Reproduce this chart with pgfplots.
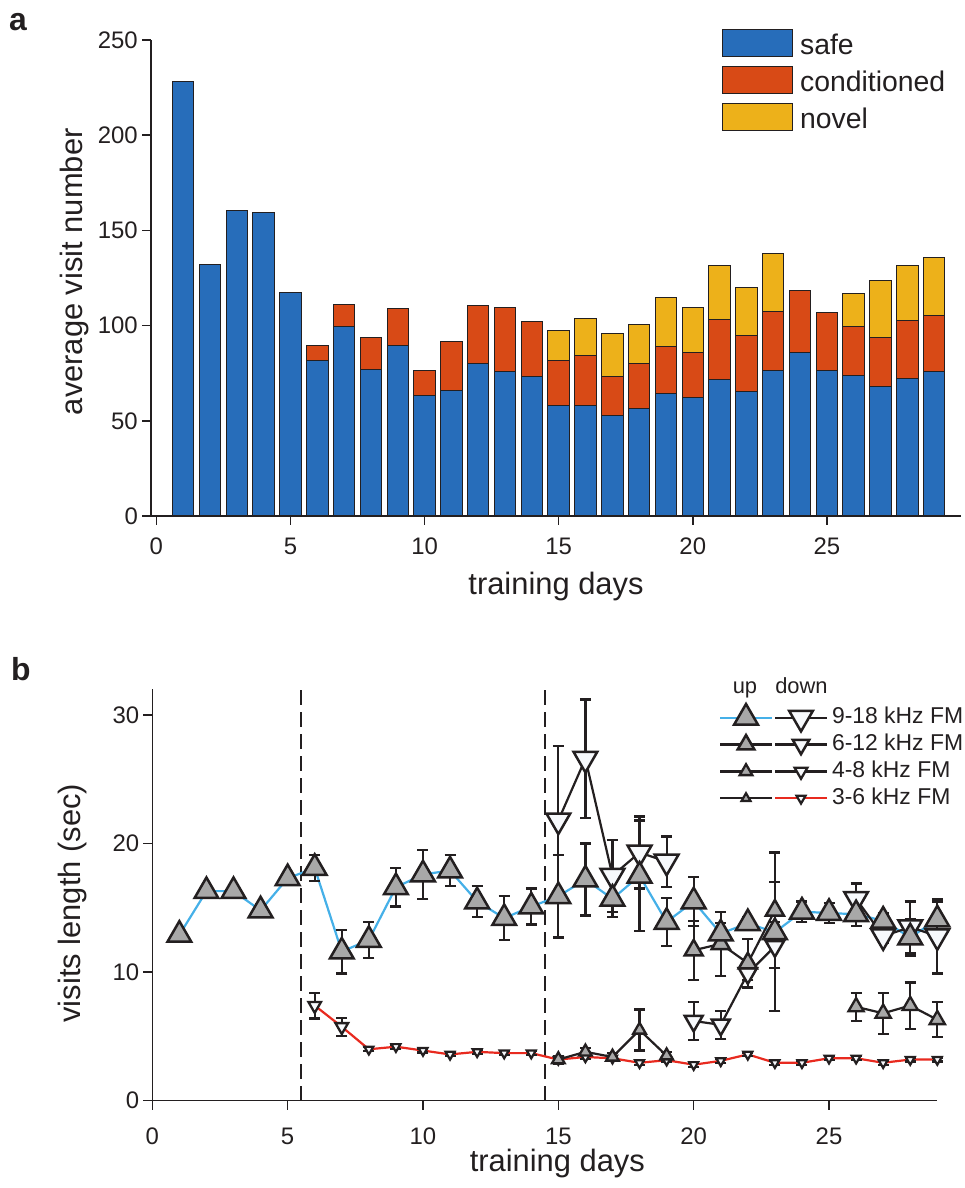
\documentclass[border=0pt]{standalone}
\usepackage{fontspec}
\setmainfont{Liberation Sans}
\usepackage{pgfplots}
\pgfplotsset{compat=1.18}
\definecolor{edgecol}{HTML}{231F20}
\definecolor{cblue}{HTML}{276DBA}
\definecolor{corange}{HTML}{D84A16}
\definecolor{cyellow}{HTML}{EDB11A}
\definecolor{mgray}{HTML}{A8A8A8}
\definecolor{mwhite}{HTML}{F7F9FC}
\definecolor{lblue}{HTML}{45B0E8}
\definecolor{lred}{HTML}{E82A1F}
\pgfplotsset{
  myaxis/.style={
    scale only axis, anchor=south west,
    axis x line*=bottom, axis y line*=left,
    axis line style={line width=1.5bp, draw=edgecol},
    tick align=outside, major tick length=9bp,
    every tick/.style={line width=1.5bp, draw=edgecol},
    tick label style={font=\fontsize{24}{28}\selectfont, text=edgecol},
    /pgf/number format/assume math mode=true,
    label style={font=\fontsize{31}{36}\selectfont, text=edgecol},
    xticklabel style={anchor=north, inner sep=0pt, yshift=-13bp},
    yticklabel style={anchor=east, inner sep=0pt, xshift=-4bp},
  },
  boxleg/.style={legend image code/.code={\draw[##1] (0bp,-13.5bp) rectangle (70bp,13.5bp);}},
  upA/.style={only marks, mark=triangle*, mark size=13.7bp, mark options={fill=mgray, draw=edgecol, line width=2.5bp, solid}},
  dnA/.style={only marks, mark=triangle*, mark size=13.7bp, mark options={rotate=180, fill=mwhite, draw=edgecol, line width=2.5bp, solid}},
  upB/.style={only marks, mark=triangle*, mark size=10.4bp, mark options={fill=mgray, draw=edgecol, line width=2.5bp, solid}},
  dnB/.style={only marks, mark=triangle*, mark size=10.4bp, mark options={rotate=180, fill=mwhite, draw=edgecol, line width=2.5bp, solid}},
  upC/.style={only marks, mark=triangle*, mark size=7.3bp, mark options={fill=mgray, draw=edgecol, line width=2.3bp, solid}},
  dnC/.style={only marks, mark=triangle*, mark size=7.3bp, mark options={rotate=180, fill=mwhite, draw=edgecol, line width=2.3bp, solid}},
  upD/.style={only marks, mark=triangle*, mark size=5.2bp, mark options={fill=mgray, draw=edgecol, line width=2.2bp, solid}},
  dnD/.style={only marks, mark=triangle*, mark size=5.2bp, mark options={rotate=180, fill=mwhite, draw=edgecol, line width=2.2bp, solid}},
  eb/.style={error bars/.cd, y dir=both, y explicit,
    error bar style={line width=2.2bp, draw=edgecol},
    error mark options={rotate=90, line width=2.2bp, mark size=5.5bp, draw=edgecol}},
  blk/.style={no markers, draw=edgecol, line width=2.2bp},
}
\begin{document}
\begin{tikzpicture}
\path[use as bounding box] (0bp,0bp) rectangle (965bp,1188bp);
\node[anchor=base west, font=\bfseries\fontsize{32}{36}\selectfont, text=edgecol, inner sep=0pt] at (9bp,1157bp) {a};
\node[anchor=base west, font=\bfseries\fontsize{32}{36}\selectfont, text=edgecol, inner sep=0pt] at (11bp,507bp) {b};
% ---------------- panel a
\begin{axis}[myaxis, at={(151bp,672bp)}, width=810bp, height=476bp,
  xmin=-0.2, xmax=30, ymin=0, ymax=250,
  xtick={0,5,...,25}, ytick={0,50,...,250},
  ybar stacked, bar width=0.8,
  xlabel={training days}, ylabel={average visit number},
  xlabel style={at={(axis description cs:0.5,0)}, anchor=base, yshift=-79bp},
  ylabel style={at={(axis description cs:-0.085,0.513)}, anchor=base},
  legend cell align=left,
  legend style={at={(axis description cs:0.705,1.0225)}, anchor=north west, draw=none, fill=none,
    inner sep=0pt, outer sep=0pt, row sep=9bp, column sep=7bp,
    font=\fontsize{28.5}{34}\selectfont, text=edgecol,
    nodes={inner sep=0pt, text height=25bp, text depth=2bp}},
]
\addplot[fill=cblue, draw=edgecol, line width=1bp, boxleg] coordinates {
(1,228.4) (2,132) (3,160.5) (4,159.5) (5,117.2) (6,81.5) (7,99.5) (8,76.8) (9,89.7) (10,63.1)
(11,66.1) (12,80.1) (13,75.9) (14,73.1) (15,58.1) (16,58.1) (17,52.8) (18,56.5) (19,64.2) (20,62.3)
(21,71.9) (22,65.6) (23,76.6) (24,85.9) (25,76.4) (26,73.6) (27,68.2) (28,72.2) (29,75.7)};
\addlegendentry{safe}
\addplot[fill=corange, draw=edgecol, line width=1bp, boxleg] coordinates {
(1,0) (2,0) (3,0) (4,0) (5,0) (6,8.2) (7,11.4) (8,16.9) (9,19.3) (10,13.1)
(11,25.4) (12,30.6) (13,33.6) (14,28.9) (15,23.4) (16,26.0) (17,20.7) (18,23.6) (19,24.6) (20,23.4)
(21,31.1) (22,29.2) (23,31.0) (24,32.3) (25,30.3) (26,26.1) (27,25.7) (28,30.3) (29,29.6)};
\addlegendentry{conditioned}
\addplot[fill=cyellow, draw=edgecol, line width=1bp, boxleg] coordinates {
(1,0) (2,0) (3,0) (4,0) (5,0) (6,0) (7,0) (8,0) (9,0) (10,0)
(11,0) (12,0) (13,0) (14,0) (15,16.1) (16,19.4) (17,22.3) (18,20.6) (19,25.9) (20,23.8)
(21,28.5) (22,25.2) (23,30.0) (24,0) (25,0) (26,17.1) (27,29.9) (28,29.0) (29,30.2)};
\addlegendentry{novel}
\end{axis}
% ---------------- panel b
\begin{axis}[myaxis, at={(152.3bp,87.3bp)}, width=785bp, height=411.4bp,
  xmin=0, xmax=29, ymin=0, ymax=32, clip=false,
  xtick={0,5,...,25}, ytick={0,10,20,30},
  xticklabel style={yshift=-5bp},
  xlabel={training days}, ylabel={visits length (sec)},
  xlabel style={at={(axis description cs:0.516,0)}, anchor=base, yshift=-71bp},
  ylabel style={at={(axis description cs:-0.092,0.48)}, anchor=base},
  legend columns=2, legend cell align=left,
  legend style={at={(axis description cs:0.7232,0.9577)}, anchor=north west, draw=none, fill=none,
    inner sep=0pt, outer sep=0pt, row sep=4.9bp, column sep=1bp,
    font=\fontsize{23}{27}\selectfont, text=edgecol,
    nodes={inner sep=0pt, text height=17bp, text depth=5bp}},
  legend image code/.code={\draw[overlay,mark repeat=2,mark phase=2,#1] plot coordinates {(0bp,0bp) (26bp,0bp) (52bp,0bp)}; \path[draw=none,fill=none] (0bp,-11bp) rectangle (52bp,11bp);},
]
\draw[edgecol, line width=2bp, dash pattern=on 15bp off 7bp] (axis cs:5.5,0) -- (axis cs:5.5,32);
\draw[edgecol, line width=2bp, dash pattern=on 15bp off 7bp] (axis cs:14.5,0) -- (axis cs:14.5,32);
% lines
\addplot[forget plot, no markers, draw=lblue, line width=2.2bp] coordinates {
(1,12.9) (2,16.3) (3,16.3) (4,14.8) (5,17.3) (6,18.1) (7,11.6) (8,12.5) (9,16.6) (10,17.6)
(11,17.9) (12,15.5) (13,14.2) (14,15.1) (15,15.9) (16,17.2) (17,15.7) (18,17.5) (19,13.9) (20,15.5)
(21,13.0) (22,13.8) (23,13.1) (24,14.7) (25,14.6) (26,14.5) (27,14.0) (28,12.7) (29,14.1)};
\addplot[forget plot, no markers, draw=lred, line width=2.2bp] coordinates {
(6,7.4) (7,5.75) (8,4.0) (9,4.2) (10,3.9) (11,3.6) (12,3.8) (13,3.7) (14,3.7) (15,3.2)
(16,3.4) (17,3.3) (18,2.95) (19,3.15) (20,2.8) (21,3.1) (22,3.6) (23,2.95) (24,2.95) (25,3.3)
(26,3.3) (27,2.95) (28,3.2) (29,3.2)};
\addplot[forget plot, blk] coordinates {(15,21.8) (16,26.6) (17,17.5) (18,19.3) (19,18.6)};
\addplot[forget plot, blk] coordinates {(26,15.7) (27,12.8) (28,13.5) (29,12.8)};
\addplot[forget plot, blk] coordinates {(20,11.7) (21,12.2) (22,10.7) (23,14.8)};
\addplot[forget plot, blk] coordinates {(20,6.2) (21,5.9) (22,9.9) (23,12.0)};
\addplot[forget plot, blk] coordinates {(15,3.2) (16,3.8) (17,3.4) (18,5.5) (19,3.5)};
\addplot[forget plot, blk] coordinates {(26,7.3) (27,6.8) (28,7.4) (29,6.3)};
% markers
\addplot[forget plot, dnC, eb] coordinates {(6,7.4) +- (0,1.0) (7,5.75) +- (0,0.7)};
\addplot[forget plot, dnD, eb] coordinates {
(8,4.0) +- (0,0.15) (9,4.2) +- (0,0.15) (10,3.9) +- (0,0.15) (11,3.6) +- (0,0.15) (12,3.8) +- (0,0.15)
(13,3.7) +- (0,0.15) (14,3.7) +- (0,0.15) (15,3.2) +- (0,0.15) (16,3.4) +- (0,0.15) (17,3.3) +- (0,0.15)
(18,2.95) +- (0,0.15) (19,3.15) +- (0,0.15) (20,2.8) +- (0,0.15) (21,3.1) +- (0,0.15) (22,3.6) +- (0,0.15)
(23,2.95) +- (0,0.15) (24,2.95) +- (0,0.15) (25,3.3) +- (0,0.15) (26,3.3) +- (0,0.15) (27,2.95) +- (0,0.15)
(28,3.2) +- (0,0.15) (29,3.2) +- (0,0.15)};
\addplot[forget plot, upC, eb] coordinates {(15,3.2) +- (0,0.3) (16,3.8) +- (0,0.3) (17,3.4) +- (0,0.3) (18,5.5) +- (0,1.6) (19,3.5) +- (0,0.3)};
\addplot[forget plot, upC, mark size=8.8bp, eb] coordinates {(26,7.3) +- (0,1.1) (27,6.8) +- (0,1.6) (28,7.4) +- (0,1.8) (29,6.3) +- (0,1.35)};
\addplot[forget plot, dnB, eb] coordinates {(20,6.2) +- (0,1.5) (21,5.9) +- (0,1.1) (22,9.9) +- (0,0.5) (23,12.0) +- (0,5.0)};
\addplot[forget plot, upB, eb] coordinates {(20,11.7) +- (0,2.3) (21,12.2) +- (0,2.5) (22,10.7) +- (0,1.9) (23,14.8) +- (0,4.5)};
\addplot[forget plot, dnA, eb] coordinates {(15,21.8) +- (0,5.8) (16,26.6) +- (0,4.6) (17,17.5) +- (0,2.8) (18,19.3) +- (0,2.8) (19,18.6) +- (0,1.95)
(26,15.7) +- (0,1.2) (27,12.8) +- (0,0.5) (28,13.5) +- (0,2.0) (29,12.8) +- (0,2.9)};
\addplot[forget plot, upA, eb] coordinates {
(1,12.9) +- (0,0.3) (2,16.3) +- (0,0.3) (3,16.3) +- (0,0.3) (4,14.8) +- (0,0.5) (5,17.3) +- (0,0.3)
(6,18.1) +- (0,1.0) (7,11.6) +- (0,1.7) (8,12.5) +- (0,1.4) (9,16.6) +- (0,1.5) (10,17.6) +- (0,1.9)
(11,17.9) +- (0,1.2) (12,15.5) +- (0,1.2) (13,14.2) +- (0,1.7) (14,15.1) +- (0,1.4) (15,15.9) +- (0,3.2)
(16,17.2) +- (0,2.8) (17,15.7) +- (0,1.4) (18,17.5) +- (0,4.3) (19,13.9) +- (0,1.85) (20,15.5) +- (0,1.9)
(21,13.0) +- (0,0.8) (22,13.8) +- (0,0.5) (23,13.1) +- (0,0.8) (24,14.7) +- (0,0.8) (25,14.6) +- (0,0.8)
(26,14.5) +- (0,0.9) (27,14.0) +- (0,0.6) (28,12.7) +- (0,1.4) (29,14.1) +- (0,1.4)};
% legend
\addlegendimage{draw=lblue, line width=2.2bp, mark=triangle*, mark size=13.7bp, mark options={fill=mgray, draw=edgecol, line width=2.5bp}}
\addlegendentry{}
\addlegendimage{draw=edgecol, line width=2.2bp, mark=triangle*, mark size=13.7bp, mark options={rotate=180, fill=mwhite, draw=edgecol, line width=2.5bp}}
\addlegendentry{\hspace{4bp}9-18 kHz FM}
\addlegendimage{draw=edgecol, line width=2.2bp, mark=triangle*, mark size=9.6bp, mark options={fill=mgray, draw=edgecol, line width=2.5bp}}
\addlegendentry{}
\addlegendimage{draw=edgecol, line width=2.2bp, mark=triangle*, mark size=9.6bp, mark options={rotate=180, fill=mwhite, draw=edgecol, line width=2.5bp}}
\addlegendentry{\hspace{4bp}6-12 kHz FM}
\addlegendimage{draw=edgecol, line width=2.2bp, mark=triangle*, mark size=7.3bp, mark options={fill=mgray, draw=edgecol, line width=2.3bp}}
\addlegendentry{}
\addlegendimage{draw=edgecol, line width=2.2bp, mark=triangle*, mark size=7.3bp, mark options={rotate=180, fill=mwhite, draw=edgecol, line width=2.3bp}}
\addlegendentry{\hspace{4bp}4-8 kHz FM}
\addlegendimage{draw=edgecol, line width=2.2bp, mark=triangle*, mark size=5.2bp, mark options={fill=mgray, draw=edgecol, line width=2.2bp}}
\addlegendentry{}
\addlegendimage{draw=lred, line width=2.2bp, mark=triangle*, mark size=5.2bp, mark options={rotate=180, fill=mwhite, draw=edgecol, line width=2.2bp}}
\addlegendentry{\hspace{4bp}3-6 kHz FM}
\node[anchor=base, font=\fontsize{22}{26}\selectfont, text=edgecol, inner sep=0pt] at (axis description cs:0.755,0.991) {up};
\node[anchor=base, font=\fontsize{22}{26}\selectfont, text=edgecol, inner sep=0pt] at (axis description cs:0.827,0.991) {down};
\end{axis}
\end{tikzpicture}
\end{document}
